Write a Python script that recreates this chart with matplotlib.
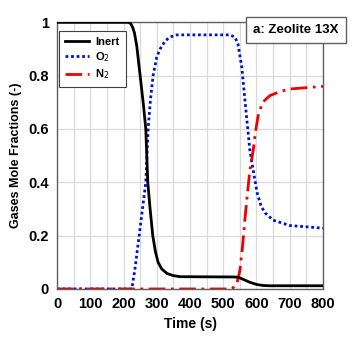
import numpy as np
import matplotlib.pyplot as plt
from matplotlib.ticker import MultipleLocator

# breakthrough curves, time in s
t_inert = [0, 215, 222, 228, 233, 240, 250, 260, 267, 270, 273, 280, 288, 296,
           304, 315, 331, 350, 370, 530, 545, 560, 580, 600, 620, 640, 800]
inert = [1.0, 1.0, 0.995, 0.98, 0.96, 0.91, 0.80, 0.69, 0.60, 0.50, 0.40, 0.30,
         0.20, 0.14, 0.10, 0.075, 0.058, 0.05, 0.046, 0.045, 0.044, 0.036, 0.025,
         0.017, 0.013, 0.012, 0.012]

t_o2 = [0, 225, 235, 247, 257, 267, 274, 281, 289, 300, 310, 325, 340, 360,
        520, 535, 544, 556, 565, 580, 590, 602, 614, 626, 650, 700, 800]
o2 = [0.0, 0.0, 0.08, 0.2, 0.3, 0.4, 0.6, 0.71, 0.8, 0.87, 0.9, 0.93, 0.945,
      0.953, 0.953, 0.945, 0.92, 0.83, 0.71, 0.52, 0.445, 0.36, 0.31, 0.285,
      0.258, 0.238, 0.228]

t_n2 = [0, 520, 530, 541, 550, 558, 565, 572, 580, 590, 597, 605, 618, 640,
        670, 700, 750, 800]
n2 = [0.0, 0.0, 0.005, 0.02, 0.07, 0.16, 0.26, 0.35, 0.445, 0.52, 0.59, 0.65,
      0.70, 0.725, 0.74, 0.75, 0.755, 0.76]

fig = plt.figure(figsize=(3.53, 3.44), dpi=100)
ax = fig.add_axes([0.1615, 0.16, 0.7535, 0.775])

ax.plot(t_inert, inert, color='black', lw=2, label='Inert', zorder=3)
ax.plot(t_o2, o2, color='#0010d0', lw=2, ls=(0, (1, 1)), label='O$_2$', zorder=2)
ax.plot(t_n2, n2, color='#ee0000', lw=2, ls=(0, (6, 2, 1, 2)), label='N$_2$', zorder=2)

ax.set_xlim(0, 800)
ax.set_ylim(0, 1)
ax.xaxis.set_major_locator(MultipleLocator(100))
ax.xaxis.set_minor_locator(MultipleLocator(50))
ax.yaxis.set_major_locator(MultipleLocator(0.2))
ax.grid(True, which='both', axis='x', color='#d9d9d9', lw=0.9, zorder=0)
ax.grid(True, which='major', axis='y', color='#d9d9d9', lw=0.9, zorder=0)
ax.set_axisbelow(True)
ax.tick_params(which='both', length=0, pad=6)
ax.set_yticks([0, 0.2, 0.4, 0.6, 0.8, 1.0])
ax.set_yticklabels(['0', '0.2', '0.4', '0.6', '0.8', '1'])
for lab in ax.get_xticklabels() + ax.get_yticklabels():
    lab.set_fontweight('bold')
    lab.set_fontsize(10.5)
    lab.set_family(['Liberation Sans', 'DejaVu Sans'])
for sp in ax.spines.values():
    sp.set_color('#606060')
    sp.set_linewidth(1)

ax.set_xlabel('Time (s)', fontsize=10, fontweight='bold',
              family=['Liberation Sans', 'DejaVu Sans'], labelpad=4)
ax.set_ylabel('Gases Mole Fractions (-)', fontsize=9, fontweight='bold',
              family=['Liberation Sans Narrow', 'Liberation Sans', 'DejaVu Sans'],
              labelpad=4)

leg = ax.legend(loc='upper left', bbox_to_anchor=(0.008, 0.968), borderaxespad=0,
                fancybox=False, edgecolor='#404040', framealpha=1,
                handlelength=2.1, handletextpad=0.6, borderpad=0.55,
                labelspacing=0.3,
                prop={'weight': 'bold', 'size': 8, 'family': 'Liberation Sans'})
leg.get_frame().set_linewidth(0.8)

fig.text(0.838, 0.913, 'a: Zeolite 13X', ha='center', va='center',
         fontsize=9.5, fontweight='bold', family='Liberation Sans',
         bbox=dict(boxstyle='square,pad=0.55', fc='white', ec='#606060', lw=1))

fig.savefig('out.png', dpi=100)
